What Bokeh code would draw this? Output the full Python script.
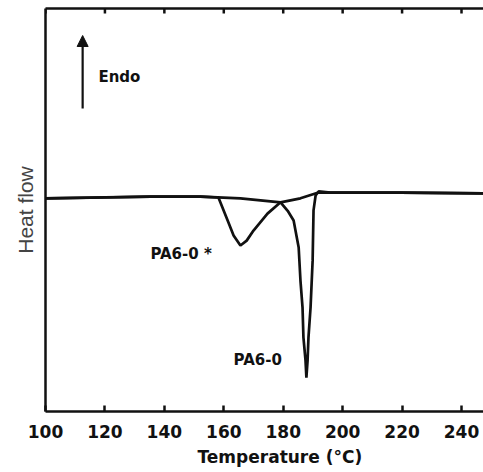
from bokeh.plotting import figure
from bokeh.models import Range1d, LinearAxis, FixedTicker, Arrow, NormalHead, Title
from bokeh.core.properties import value
from bokeh.embed import file_html
from bokeh.resources import INLINE

# PA6-0 * (broad, shallow peak)
temp_star = [100, 118.5, 135.3, 152.2, 158.2, 161.3, 163.3, 165.6, 167.7, 170.0,
             174.7, 179.1, 185.8, 191.6, 202.7, 219.5, 247.4]
flow_star = [52.9, 53.1, 53.3, 53.3, 53.1, 47.4, 43.7, 41.2, 42.4, 44.9,
             49.1, 51.9, 52.9, 54.3, 54.3, 54.3, 54.1]

# PA6-0 (sharp, deep peak)
temp_pa6 = [100, 135.3, 152.2, 165.6, 179.1, 181.5, 183.5, 185.2, 185.8, 186.5,
            186.8, 187.5, 187.8, 188.2, 188.5, 189.2, 189.9, 190.2, 190.9, 191.9,
            195.9, 219.5, 247.4]
flow_pa6 = [52.9, 53.3, 53.3, 52.9, 51.9, 49.8, 47.4, 40.7, 32.5, 25.8,
            18.4, 12.7, 8.4, 12.7, 18.4, 25.8, 37.5, 49.9, 53.6, 54.6,
            54.3, 54.3, 54.1]

x_ticks = [100, 120, 140, 160, 180, 200, 220, 240]
curve_labels = ["PA6-0 *", "PA6-0"]

ink = "#111111"
Y_TOP = 100
TICK_LEN = 5 / 4.03  # 5 px in data units

p = figure(frame_width=438, frame_height=403, output_backend="svg", toolbar_location=None,
           x_range=Range1d(100, 247.4), y_range=Range1d(0, Y_TOP))
p.min_border_left = 45
p.min_border_right = 0
p.min_border_top = 8
p.min_border_bottom = 0
p.outline_line_color = None
p.grid.visible = False

xa = p.xaxis[0]
xa.ticker = FixedTicker(ticks=x_ticks)
xa.major_tick_in = 6
xa.major_tick_out = 0
xa.minor_tick_line_color = None
xa.axis_line_width = 2.5
xa.axis_line_color = ink
xa.major_tick_line_width = 2.5
xa.major_tick_line_color = ink
xa.major_label_text_font = "DejaVu Sans"
xa.major_label_text_font_style = "bold"
xa.major_label_text_font_size = "17px"
xa.major_label_text_color = ink
xa.major_label_standoff = 13

ya = p.yaxis[0]
ya.ticker = FixedTicker(ticks=[])
ya.major_tick_line_color = None
ya.minor_tick_line_color = None
ya.axis_line_width = 2.5
ya.axis_line_color = ink
ya.axis_label = "Heat flow"
ya.axis_label_text_font = "Liberation Sans"
ya.axis_label_text_font_style = "normal"
ya.axis_label_text_font_size = "21px"
ya.axis_label_text_color = "#444444"
ya.axis_label_standoff = 9

# top border line (no labels)
top = LinearAxis(ticker=FixedTicker(ticks=[]), axis_line_width=2.5, axis_line_color=ink,
                 major_tick_line_color=None, minor_tick_line_color=None)
p.add_layout(top, "above")
# inward ticks on the top border
p.segment(x0=x_ticks, y0=[Y_TOP] * len(x_ticks), x1=x_ticks,
          y1=[Y_TOP - TICK_LEN] * len(x_ticks), line_width=2.5, line_color=ink)

p.add_layout(Title(text="Temperature (°C)", align="left", offset=152, standoff=8,
                   text_font="DejaVu Sans", text_font_style="bold",
                   text_font_size="17px", text_color=ink), "below")

p.line(temp_star, flow_star, line_width=2.7, line_color=ink)
p.line(temp_pa6, flow_pa6, line_width=2.7, line_color=ink)

p.add_layout(Arrow(end=NormalHead(size=11, fill_color=ink, line_color=ink),
                   x_start=112.5, y_start=75.2, x_end=112.5, y_end=93.3,
                   line_width=2.2, line_color=ink))

p.text(x=[117.8], y=[82.9], text=["Endo"], text_font=value("DejaVu Sans"),
       text_font_style="bold", text_font_size="15px", text_baseline="middle",
       text_align="left", text_color=ink)
p.text(x=[135.3, 163.3], y=[39.2, 12.7], text=curve_labels, text_font=value("DejaVu Sans"),
       text_font_style="bold", text_font_size="15px", text_baseline="middle",
       text_align="left", text_color=ink)

open("out.html", "w").write(file_html(p, INLINE))
